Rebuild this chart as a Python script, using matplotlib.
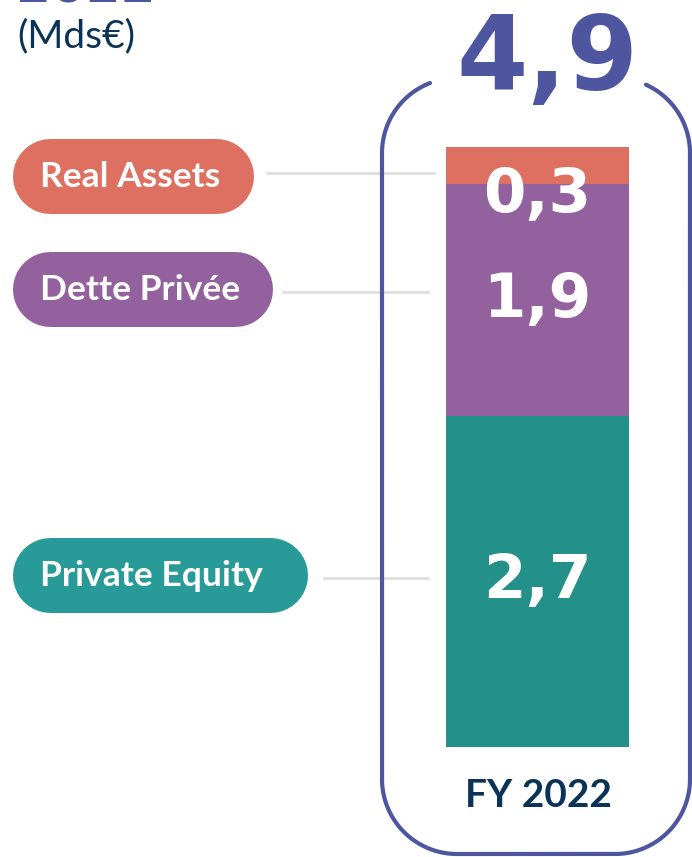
import numpy as np
import matplotlib.pyplot as plt

# Data (Mds€)
categories = ["Private Equity", "Dette Privée", "Real Assets"]
values = [2.7, 1.9, 0.3]
value_labels = ["2,7", "1,9", "0,3"]
total_label = "4,9"
period = "FY 2022"

colors = ["#24908a", "#93619e", "#de7062"]
pill_colors = ["#289a97", "#93619e", "#de7062"]
navy = "#0b3358"
frame = "#4e56a0"

W, H = 692, 857
fig = plt.figure(figsize=(W / 100, H / 100), dpi=100)

# overlay axes in pixel coordinates
ax0 = fig.add_axes([0, 0, 1, 1])
ax0.set_xlim(0, W)
ax0.set_ylim(H, 0)
ax0.axis("off")

# bar axes: x 446..629 px, y 147..747 px
bx0, bx1, by0, by1 = 446, 629, 147, 747
ax = fig.add_axes([bx0 / W, 1 - by1 / H, (bx1 - bx0) / W, (by1 - by0) / H])
ax.set_xlim(-0.5, 0.5)
ax.set_ylim(0, sum(values))
ax.axis("off")

bottom = 0
for v, c in zip(values, colors):
    ax.bar(0, v, width=1, bottom=bottom, color=c, zorder=2)
    bottom += v

heavy = ["DejaVu Sans"]
plain = ["Lato", "DejaVu Sans"]

# value labels inside the bar
cum = np.cumsum([0] + values)
ax.text(0, (cum[0] + cum[1]) / 2, value_labels[0], ha="center", va="center",
        color="white", fontsize=44, fontweight="bold", family=heavy)
ax.text(0, (cum[1] + cum[2]) / 2, value_labels[1], ha="center", va="center",
        color="white", fontsize=44, fontweight="bold", family=heavy)
ax.text(0, cum[3] - 0.40, value_labels[2], ha="center", va="center",
        color="white", fontsize=44, fontweight="bold", family=heavy, zorder=3)

# rounded frame, open at top around the total
L, R, T, B, r = 382, 690, 78, 854, 75
def arc(cx, cy, a0, a1):
    t = np.radians(np.linspace(a0, a1, 40))
    return cx + r * np.cos(t), cy - r * np.sin(t)

xs, ys = [], []
a_start = np.degrees(np.arccos((430 - (L + r)) / r))
x, y = arc(L + r, T + r, a_start, 180); xs += list(x); ys += list(y)
x, y = arc(L + r, B - r, 180, 270); xs += list(x); ys += list(y)
x, y = arc(R - r, B - r, 270, 360); xs += list(x); ys += list(y)
a_end = np.degrees(np.arccos((646 - (R - r)) / r))
x, y = arc(R - r, T + r, 0, a_end); xs += list(x); ys += list(y)
ax0.plot(xs, ys, color=frame, lw=3, solid_capstyle="round", zorder=1)

ax0.text(547, 90, total_label, ha="center", va="baseline", color=frame,
         fontsize=74, fontweight="bold", family=heavy)

ax0.text(538, 807, period, ha="center", va="baseline", color=navy,
         fontsize=28, fontweight="bold", family=plain)

# header (top cut off as in the source)
ax0.text(16, 2.5, "2022", ha="left", va="baseline", color=frame,
         fontsize=36, fontweight="bold", family=heavy)
ax0.text(17, 47, "(Mds€)", ha="left", va="baseline", color=navy,
         fontsize=28, family=plain)

# pills (thick round-capped lines) with connector lines
pill_y = [575, 289, 176]
pill_w = [295, 260, 241]
line_x = [(324, 428), (283, 428), (267, 434)]
line_y = [578, 292, 173]
for cat, pc, yc, w, lx, ly in zip(categories, pill_colors, pill_y, pill_w, line_x, line_y):
    ax0.plot([12 + 37.5, 12 + w - 37.5], [yc, yc], color=pc, lw=75 * 0.72,
             solid_capstyle="round", zorder=2)
    ax0.text(40, yc + 1, cat, ha="left", va="center", color="white",
             fontsize=25.5, fontweight="bold", family=plain, zorder=3)
    ax0.plot(lx, [ly, ly], color="#dcdcdc", lw=1.8, zorder=0)

fig.savefig("out.png", dpi=100)
